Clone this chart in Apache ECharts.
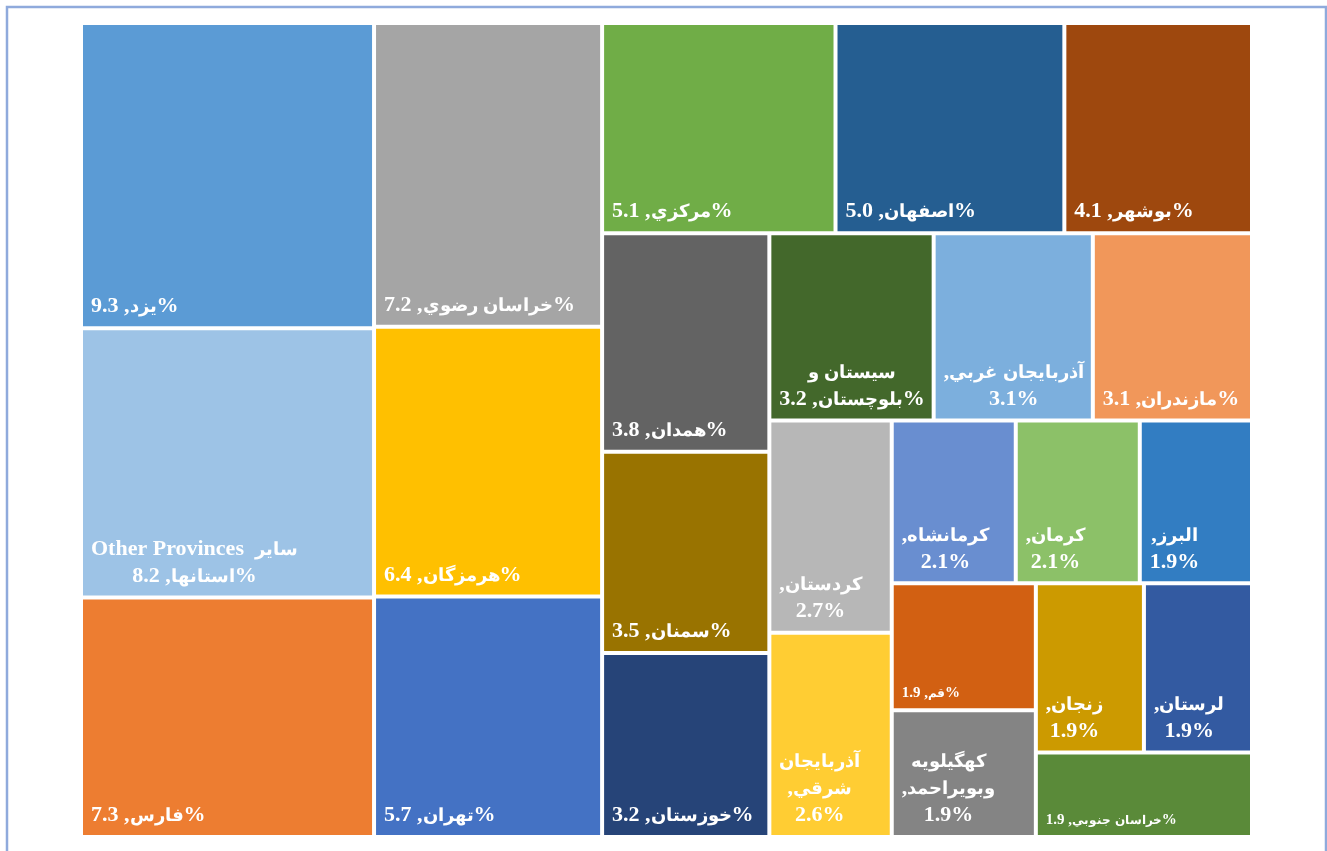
<!DOCTYPE html>
<html>
<head>
<meta charset="utf-8">
<script src="https://cdn.jsdelivr.net/npm/echarts@6/dist/echarts.min.js"></script>
<style>
  html, body { margin: 0; padding: 0; background: #fff; }
  #chart { width: 1327px; height: 851px; }
  /* the only installed arabic face is wide, scale it down to sit with the serif digits */
  @font-face {
    font-family: 'FaBold';
    src: local('DejaVu Sans Bold'), local('DejaVuSans-Bold');
    font-weight: 700;
    size-adjust: 80%;
    unicode-range: U+0600-06FF, U+FB50-FDFF, U+FE70-FEFF;
  }
</style>
</head>
<body>
<div id="chart"></div>
<script>
// provinces in the order the treemap lays them out (largest first)
const provinces = ['یزد', 'سایر استانها', 'فارس', 'خراسان رضوي', 'هرمزگان', 'تهران', 'مرکزي', 'اصفهان', 'بوشهر',
  'همدان', 'سمنان', 'خوزستان', 'سیستان و بلوچستان', 'آذربایجان غربي', 'مازندران', 'کردستان', 'آذربایجان شرقي',
  'کرمانشاه', 'کرمان', 'البرز', 'قم', 'کهگیلویه و بویراحمد', 'زنجان', 'لرستان', 'خراسان جنوبي'];
const shares = [9.3, 8.2, 7.3, 7.2, 6.4, 5.7, 5.1, 5.0, 4.1, 3.8, 3.5, 3.2, 3.2, 3.1, 3.1, 2.7, 2.6, 2.1, 2.1, 1.9, 1.9, 1.9, 1.9, 1.9, 1.9];
const colors = ['#5B9BD5', '#9DC3E6', '#ED7D31', '#A5A5A5', '#FFC000', '#4472C4', '#70AD47', '#255E91', '#9E480E',
  '#636363', '#997300', '#264478', '#43682B', '#7CAFDD', '#F1975A', '#B7B7B7', '#FFCD33',
  '#698ED0', '#8CC168', '#327DC2', '#D26012', '#848484', '#CC9A00', '#335AA1', '#5A8A39'];
// label lines as they show on the cells, {v} = share
const labelLines = [
  ['{v} ,یزد%'],
  ['Other Provinces  سایر', '{v} ,استانها%'],
  ['{v} ,فارس%'],
  ['{v} ,خراسان رضوي%'],
  ['{v} ,هرمزگان%'],
  ['{v} ,تهران%'],
  ['{v} ,مرکزي%'],
  ['{v} ,اصفهان%'],
  ['{v} ,بوشهر%'],
  ['{v} ,همدان%'],
  ['{v} ,سمنان%'],
  ['{v} ,خوزستان%'],
  ['سیستان و', '{v} ,بلوچستان%'],
  [',آذربایجان غربي', '{v}%'],
  ['{v} ,مازندران%'],
  [',کردستان', '{v}%'],
  ['آذربایجان', ',شرقي', '{v}%'],
  [',کرمانشاه', '{v}%'],
  [',کرمان', '{v}%'],
  [',البرز', '{v}%'],
  ['{v} ,قم%'],
  ['کهگیلویه', ',وبویراحمد', '{v}%'],
  [',زنجان', '{v}%'],
  [',لرستان', '{v}%'],
  ['{v} ,خراسان جنوبي%']
];
const smallLabels = ['قم', 'خراسان جنوبي'];

const FONT = '"Liberation Serif", FaBold, serif';
const measureCtx = document.createElement('canvas').getContext('2d');
function textWidth(str, size) {
  measureCtx.font = 'bold ' + size + 'px ' + FONT;
  return measureCtx.measureText(str).width;
}

function leaf(i) {
  const v = shares[i].toFixed(1);
  const lines = labelLines[i].map(s => s.replace('{v}', v));
  const size = smallLabels.includes(provinces[i]) ? 15 : 22;
  // lines are centred on each other, block sits at the bottom-left
  const w = Math.max(...lines.map(s => textWidth(s, size)));
  return {
    name: provinces[i],
    value: shares[i],
    itemStyle: { color: colors[i], borderWidth: 2, borderColor: '#fff' },
    label: {
      formatter: lines.join('\n'),
      fontSize: size,
      lineHeight: size === 22 ? 27 : 18,
      align: 'center',
      offset: [w / 2, 2]
    }
  };
}

function draw() {
  // excel stacks the small provinces a bit differently than plain squarify,
  // so the last ones are nested to get the same split
  const inner = [];
  for (let i = 17; i < provinces.length; i++) inner.push(leaf(i));
  const data = [];
  for (let i = 0; i < 15; i++) data.push(leaf(i));
  data.push({ name: 'rest', children: [leaf(15), leaf(16), { name: 'small', children: inner }] });

  const myChart = echarts.init(document.getElementById('chart'));
  const option = {
    animation: false,
    backgroundColor: '#fff',
    graphic: [{
      type: 'rect',
      silent: true,
      shape: { x: 7, y: 7, width: 1319, height: 880 },
      style: { fill: 'none', stroke: '#8FAADC', lineWidth: 2.5 }
    }],
    series: [{
      type: 'treemap',
      left: 81,
      top: 23,
      width: 1171,
      height: 814,
      sort: false,
      squareRatio: 1,
      roam: false,
      nodeClick: false,
      breadcrumb: { show: false },
      itemStyle: { borderWidth: 0, gapWidth: 0, borderColor: '#fff' },
      label: {
        show: true,
        position: 'insideBottomLeft',
        distance: 8,
        padding: 0,
        color: '#fff',
        fontFamily: FONT,
        fontWeight: 'bold',
        overflow: 'none'
      },
      upperLabel: { show: false },
      data: data
    }]
  };
  myChart.setOption(option);
}

document.fonts.load('bold 22px FaBold', 'یزد').then(draw, draw);
</script>
</body>
</html>
